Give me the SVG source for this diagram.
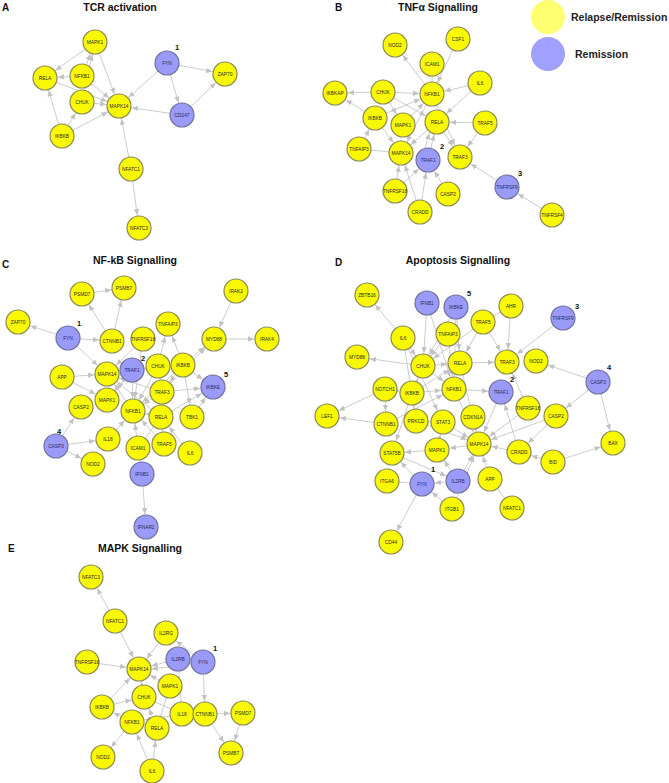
<svg xmlns="http://www.w3.org/2000/svg" width="669" height="783" viewBox="0 0 669 783">
<style>
.bg{fill:#ffffff}
.e line{stroke:#c6c6c6;stroke-width:0.9;fill:none}
.e line.a{marker-end:url(#ar)}
.n circle{stroke-width:1.2}
.y circle{fill:#f8f800;stroke:#8c8a5a}
.b circle{fill:#9a9af8;stroke:#72729e}
.n text{font-family:"Liberation Sans",Arial,sans-serif;font-size:4.8px;fill:#2c2c2c;text-anchor:middle}
.b text{fill:#2a2a5a}
.num{font-family:"Liberation Sans",Arial,sans-serif;font-size:7.5px;font-weight:bold;fill:#111}
.ttl{font-family:"Liberation Sans",Arial,sans-serif;font-size:10.5px;font-weight:bold;fill:#111;text-anchor:middle}
.lt{font-family:"Liberation Sans",Arial,sans-serif;font-size:10px;font-weight:bold;fill:#111}
.leg{font-family:"Liberation Sans",Arial,sans-serif;font-size:10.5px;font-weight:bold;fill:#222}
</style>
<defs>
<marker id="ar" viewBox="0 0 25 8" refX="19" refY="4" markerWidth="25" markerHeight="8" markerUnits="userSpaceOnUse" orient="auto"><path d="M0,1.3 L6,4 L0,6.7 z" fill="#c2c2c2"/></marker>
</defs>
<rect class="bg" x="0" y="0" width="669" height="783"/>

<g id="titles">
<text class="lt" x="2" y="11">A</text>
<text class="ttl" x="120" y="11">TCR activation</text>
<text class="lt" x="335" y="11">B</text>
<text class="ttl" x="438" y="11">TNFα Signalling</text>
<text class="lt" x="2" y="268">C</text>
<text class="ttl" x="135" y="264">NF-kB Signalling</text>
<text class="lt" x="335" y="266">D</text>
<text class="ttl" x="458" y="264">Apoptosis Signalling</text>
<text class="lt" x="8" y="552">E</text>
<text class="ttl" x="140" y="552">MAPK Signalling</text>
</g>

<g id="legend">
<circle cx="548" cy="17" r="17" fill="#ffff70"/>
<text class="leg" x="571" y="21">Relapse/Remission</text>
<circle cx="548" cy="54" r="17" fill="#a0a0ff"/>
<text class="leg" x="575" y="58">Remission</text>
</g>

<g id="connectors" class="e">
<!-- Panel A -->
<line class="a" x1="95" y1="42" x2="45" y2="78"/>
<line class="a" x1="82" y1="76" x2="95" y2="42"/>
<line class="a" x1="82" y1="102" x2="95" y2="42"/>
<line class="a" x1="82" y1="76" x2="45" y2="78"/>
<line class="a" x1="95" y1="42" x2="119" y2="106"/>
<line class="a" x1="45" y1="78" x2="119" y2="106"/>
<line class="a" x1="82" y1="76" x2="119" y2="106"/>
<line class="a" x1="82" y1="102" x2="119" y2="106"/>
<line class="a" x1="62" y1="136" x2="45" y2="78"/>
<line class="a" x1="62" y1="136" x2="82" y2="102"/>
<line class="a" x1="62" y1="136" x2="119" y2="106"/>
<line class="a" x1="167" y1="63" x2="119" y2="106"/>
<line class="a" x1="167" y1="63" x2="225" y2="74"/>
<line class="a" x1="167" y1="63" x2="182" y2="115"/>
<line class="a" x1="182" y1="115" x2="225" y2="74"/>
<line class="a" x1="182" y1="115" x2="119" y2="106"/>
<line class="a" x1="131" y1="169" x2="119" y2="106"/>
<line class="a" x1="131" y1="169" x2="139" y2="228"/>
<!-- Panel B -->
<line class="a" x1="432" y1="94" x2="395" y2="45"/>
<line class="a" x1="458" y1="39" x2="432" y2="94"/>
<line x1="432" y1="64" x2="432" y2="94"/>
<line class="a" x1="480" y1="83" x2="432" y2="94"/>
<line class="a" x1="480" y1="83" x2="437" y2="122"/>
<line class="a" x1="383" y1="92" x2="335" y2="93"/>
<line class="a" x1="375" y1="118" x2="335" y2="93"/>
<line class="a" x1="383" y1="92" x2="432" y2="94"/>
<line class="a" x1="383" y1="92" x2="437" y2="122"/>
<line class="a" x1="383" y1="92" x2="403" y2="125"/>
<line class="a" x1="375" y1="118" x2="432" y2="94"/>
<line class="a" x1="375" y1="118" x2="401" y2="153"/>
<line class="a" x1="403" y1="125" x2="432" y2="94"/>
<line class="a" x1="432" y1="94" x2="401" y2="153"/>
<line class="a" x1="437" y1="122" x2="401" y2="153"/>
<line class="a" x1="437" y1="122" x2="460" y2="157"/>
<line class="a" x1="432" y1="94" x2="460" y2="157"/>
<line class="a" x1="485" y1="123" x2="437" y2="122"/>
<line class="a" x1="485" y1="123" x2="460" y2="157"/>
<line class="a" x1="428" y1="160" x2="437" y2="122"/>
<line class="a" x1="422" y1="158" x2="433" y2="121"/>
<line class="a" x1="359" y1="149" x2="375" y2="118"/>
<line x1="359" y1="149" x2="401" y2="153"/>
<line class="a" x1="395" y1="191" x2="401" y2="153"/>
<line class="a" x1="395" y1="191" x2="428" y2="160"/>
<line class="a" x1="420" y1="212" x2="401" y2="153"/>
<line class="a" x1="420" y1="212" x2="428" y2="160"/>
<line class="a" x1="448" y1="194" x2="428" y2="160"/>
<line class="a" x1="507" y1="187" x2="460" y2="157"/>
<line class="a" x1="552" y1="215" x2="507" y2="187"/>
<!-- Panel C -->
<line class="a" x1="82" y1="294" x2="124" y2="288"/>
<line class="a" x1="112" y1="341" x2="82" y2="294"/>
<line class="a" x1="112" y1="341" x2="124" y2="288"/>
<line class="a" x1="68" y1="338" x2="18" y2="322"/>
<line class="a" x1="68" y1="338" x2="112" y2="341"/>
<line class="a" x1="68" y1="338" x2="107" y2="374"/>
<line class="a" x1="62" y1="377" x2="107" y2="374"/>
<line class="a" x1="62" y1="377" x2="107" y2="400"/>
<line class="a" x1="56" y1="446" x2="81" y2="407"/>
<line class="a" x1="56" y1="446" x2="108" y2="439"/>
<line class="a" x1="56" y1="446" x2="93" y2="464"/>
<line class="a" x1="108" y1="439" x2="133" y2="411"/>
<line class="a" x1="142" y1="474" x2="146" y2="527"/>
<line class="a" x1="236" y1="291" x2="214" y2="339"/>
<line class="a" x1="214" y1="339" x2="267" y2="339"/>
<line class="a" x1="183" y1="365" x2="214" y2="339"/>
<line class="a" x1="162" y1="392" x2="214" y2="339"/>
<line class="a" x1="158" y1="366" x2="168" y2="324"/>
<line class="a" x1="183" y1="365" x2="168" y2="324"/>
<line class="a" x1="183" y1="365" x2="213" y2="387"/>
<line class="a" x1="162" y1="392" x2="213" y2="387"/>
<line class="a" x1="192" y1="417" x2="213" y2="387"/>
<line class="a" x1="161" y1="417" x2="213" y2="387"/>
<line class="a" x1="183" y1="365" x2="192" y2="417"/>
<line class="a" x1="190" y1="453" x2="161" y2="417"/>
<line class="a" x1="164" y1="444" x2="161" y2="417"/>
<line class="a" x1="143" y1="339" x2="133" y2="411"/>
<line class="a" x1="143" y1="339" x2="107" y2="374"/>
<line class="a" x1="158" y1="366" x2="133" y2="411"/>
<line class="a" x1="158" y1="366" x2="107" y2="374"/>
<line class="a" x1="183" y1="365" x2="133" y2="411"/>
<line class="a" x1="183" y1="365" x2="132" y2="370"/>
<line class="a" x1="162" y1="392" x2="133" y2="411"/>
<line class="a" x1="162" y1="392" x2="107" y2="374"/>
<line class="a" x1="161" y1="417" x2="133" y2="411"/>
<line class="a" x1="161" y1="417" x2="107" y2="374"/>
<line class="a" x1="133" y1="411" x2="107" y2="374"/>
<line class="a" x1="132" y1="370" x2="133" y2="411"/>
<line class="a" x1="132" y1="370" x2="107" y2="400"/>
<line x1="138" y1="448" x2="161" y2="417"/>
<line class="a" x1="142" y1="474" x2="133" y2="411"/>
<line class="a" x1="164" y1="444" x2="133" y2="411"/>
<line class="a" x1="183" y1="365" x2="162" y2="392"/>
<line class="a" x1="158" y1="366" x2="162" y2="392"/>
<!-- Panel D -->
<line class="a" x1="403" y1="338" x2="367" y2="295"/>
<line class="a" x1="423" y1="366" x2="357" y2="357"/>
<line class="a" x1="385" y1="389" x2="327" y2="416"/>
<line class="a" x1="386" y1="424" x2="327" y2="416"/>
<line class="a" x1="385" y1="389" x2="386" y2="424"/>
<line class="a" x1="427" y1="303" x2="423" y2="366"/>
<line class="a" x1="427" y1="303" x2="454" y2="389"/>
<line class="a" x1="456" y1="307" x2="460" y2="363"/>
<line class="a" x1="456" y1="307" x2="454" y2="389"/>
<line class="a" x1="456" y1="307" x2="423" y2="366"/>
<line class="a" x1="483" y1="322" x2="460" y2="363"/>
<line class="a" x1="483" y1="322" x2="507" y2="362"/>
<line class="a" x1="483" y1="322" x2="423" y2="366"/>
<line class="a" x1="511" y1="306" x2="507" y2="362"/>
<line x1="511" y1="306" x2="483" y2="322"/>
<line class="a" x1="563" y1="318" x2="507" y2="362"/>
<line class="a" x1="598" y1="382" x2="536" y2="361"/>
<line class="a" x1="598" y1="382" x2="556" y2="416"/>
<line class="a" x1="598" y1="382" x2="613" y2="443"/>
<line class="a" x1="553" y1="462" x2="613" y2="443"/>
<line class="a" x1="553" y1="462" x2="519" y2="452"/>
<line class="a" x1="556" y1="416" x2="519" y2="452"/>
<line class="a" x1="556" y1="416" x2="479" y2="444"/>
<line class="a" x1="528" y1="408" x2="507" y2="362"/>
<line class="a" x1="528" y1="408" x2="479" y2="444"/>
<line class="a" x1="519" y1="452" x2="501" y2="392"/>
<line class="a" x1="519" y1="452" x2="479" y2="444"/>
<line class="a" x1="501" y1="392" x2="479" y2="444"/>
<line class="a" x1="454" y1="389" x2="501" y2="392"/>
<line class="a" x1="460" y1="363" x2="507" y2="362"/>
<line class="a" x1="448" y1="334" x2="423" y2="366"/>
<line class="a" x1="448" y1="334" x2="454" y2="389"/>
<line class="a" x1="403" y1="338" x2="423" y2="366"/>
<line class="a" x1="403" y1="338" x2="443" y2="422"/>
<line class="a" x1="403" y1="338" x2="416" y2="421"/>
<line class="a" x1="423" y1="366" x2="454" y2="389"/>
<line class="a" x1="423" y1="366" x2="460" y2="363"/>
<line class="a" x1="412" y1="393" x2="454" y2="389"/>
<line class="a" x1="412" y1="393" x2="423" y2="366"/>
<line class="a" x1="412" y1="393" x2="460" y2="363"/>
<line class="a" x1="454" y1="389" x2="479" y2="444"/>
<line class="a" x1="443" y1="422" x2="479" y2="444"/>
<line class="a" x1="473" y1="417" x2="479" y2="444"/>
<line class="a" x1="416" y1="421" x2="479" y2="444"/>
<line class="a" x1="416" y1="421" x2="443" y2="422"/>
<line class="a" x1="479" y1="444" x2="437" y2="450"/>
<line class="a" x1="437" y1="450" x2="392" y2="453"/>
<line class="a" x1="437" y1="450" x2="443" y2="422"/>
<line class="a" x1="422" y1="484" x2="391" y2="542"/>
<line class="a" x1="452" y1="509" x2="422" y2="484"/>
<line x1="387" y1="481" x2="422" y2="484"/>
<line class="a" x1="458" y1="481" x2="422" y2="484"/>
<line class="a" x1="422" y1="484" x2="392" y2="453"/>
<line class="a" x1="458" y1="481" x2="479" y2="444"/>
<line class="a" x1="458" y1="481" x2="437" y2="450"/>
<line class="a" x1="490" y1="479" x2="479" y2="444"/>
<line x1="512" y1="508" x2="490" y2="479"/>
<line class="a" x1="452" y1="509" x2="479" y2="444"/>
<line class="a" x1="385" y1="389" x2="412" y2="393"/>
<line class="a" x1="386" y1="424" x2="454" y2="389"/>
<line class="a" x1="412" y1="393" x2="392" y2="453"/>
<line class="a" x1="460" y1="363" x2="479" y2="444"/>
<line class="a" x1="392" y1="453" x2="458" y2="481"/>
<!-- Panel E -->
<line class="a" x1="115" y1="621" x2="91" y2="577"/>
<line class="a" x1="115" y1="621" x2="139" y2="669"/>
<line class="a" x1="87" y1="662" x2="139" y2="669"/>
<line class="a" x1="166" y1="633" x2="139" y2="669"/>
<line class="a" x1="178" y1="659" x2="139" y2="669"/>
<line class="a" x1="203" y1="662" x2="139" y2="671"/>
<line class="a" x1="203" y1="662" x2="166" y2="633"/>
<line class="a" x1="203" y1="662" x2="205" y2="714"/>
<line class="a" x1="205" y1="714" x2="243" y2="713"/>
<line class="a" x1="205" y1="714" x2="231" y2="753"/>
<line class="a" x1="243" y1="713" x2="231" y2="753"/>
<line class="a" x1="170" y1="686" x2="139" y2="669"/>
<line class="a" x1="102" y1="707" x2="139" y2="669"/>
<line class="a" x1="102" y1="707" x2="144" y2="697"/>
<line class="a" x1="132" y1="722" x2="102" y2="707"/>
<line class="a" x1="132" y1="722" x2="103" y2="757"/>
<line class="a" x1="152" y1="771" x2="132" y2="722"/>
<line class="a" x1="152" y1="771" x2="157" y2="728"/>
<line class="a" x1="144" y1="697" x2="139" y2="669"/>
<line x1="144" y1="697" x2="182" y2="714"/>
<line class="a" x1="157" y1="728" x2="144" y2="697"/>
<line x1="182" y1="714" x2="178" y2="659"/>
<line class="a" x1="182" y1="714" x2="132" y2="722"/>
<line x1="170" y1="686" x2="157" y2="728"/>
</g>

<g id="nodesA">
<g id="A_MAPK1" class="n y"><circle cx="95" cy="42" r="12"/><text x="95" y="43.7">MAPK1</text></g>
<g id="A_RELA" class="n y"><circle cx="45" cy="78" r="12"/><text x="45" y="79.7">RELA</text></g>
<g id="A_NFKB1" class="n y"><circle cx="82" cy="76" r="12"/><text x="82" y="77.7">NFKB1</text></g>
<g id="A_CHUK" class="n y"><circle cx="82" cy="102" r="12"/><text x="82" y="103.7">CHUK</text></g>
<g id="A_MAPK14" class="n y"><circle cx="119" cy="106" r="12"/><text x="119" y="107.7">MAPK14</text></g>
<g id="A_IKBKB" class="n y"><circle cx="62" cy="136" r="12"/><text x="62" y="137.7">IKBKB</text></g>
<g id="A_FYN" class="n b"><circle cx="167" cy="63" r="12"/><text x="167" y="64.7">FYN</text></g>
<g id="A_ZAP70" class="n y"><circle cx="225" cy="74" r="12"/><text x="225" y="75.7">ZAP70</text></g>
<g id="A_CD247" class="n b"><circle cx="182" cy="115" r="12"/><text x="182" y="116.7">CD247</text></g>
<g id="A_NFATC1" class="n y"><circle cx="131" cy="169" r="12"/><text x="131" y="170.7">NFATC1</text></g>
<g id="A_NFATC3" class="n y"><circle cx="139" cy="228" r="12"/><text x="139" y="229.7">NFATC3</text></g>
<text class="num" x="175" y="50">1</text>
</g>

<g id="nodesB">
<g id="B_NOD2" class="n y"><circle cx="395" cy="45" r="12"/><text x="395" y="46.7">NOD2</text></g>
<g id="B_CSF1" class="n y"><circle cx="458" cy="39" r="12"/><text x="458" y="40.7">CSF1</text></g>
<g id="B_ICAM1" class="n y"><circle cx="432" cy="64" r="12"/><text x="432" y="65.7">ICAM1</text></g>
<g id="B_IL6" class="n y"><circle cx="480" cy="83" r="12"/><text x="480" y="84.7">IL6</text></g>
<g id="B_CHUK" class="n y"><circle cx="383" cy="92" r="12"/><text x="383" y="93.7">CHUK</text></g>
<g id="B_NFKB1" class="n y"><circle cx="432" cy="94" r="12"/><text x="432" y="95.7">NFKB1</text></g>
<g id="B_IKBKAP" class="n y"><circle cx="335" cy="93" r="12"/><text x="335" y="94.7">IKBKAP</text></g>
<g id="B_IKBKB" class="n y"><circle cx="375" cy="118" r="12"/><text x="375" y="119.7">IKBKB</text></g>
<g id="B_MAPK1" class="n y"><circle cx="403" cy="125" r="12"/><text x="403" y="126.7">MAPK1</text></g>
<g id="B_RELA" class="n y"><circle cx="437" cy="122" r="12"/><text x="437" y="123.7">RELA</text></g>
<g id="B_TRAF5" class="n y"><circle cx="485" cy="123" r="12"/><text x="485" y="124.7">TRAF5</text></g>
<g id="B_TNFAIP3" class="n y"><circle cx="359" cy="149" r="12"/><text x="359" y="150.7">TNFAIP3</text></g>
<g id="B_MAPK14" class="n y"><circle cx="401" cy="153" r="12"/><text x="401" y="154.7">MAPK14</text></g>
<g id="B_TRAF1" class="n b"><circle cx="428" cy="160" r="12"/><text x="428" y="161.7">TRAF1</text></g>
<g id="B_TRAF3" class="n y"><circle cx="460" cy="157" r="12"/><text x="460" y="158.7">TRAF3</text></g>
<g id="B_TNFRSF18" class="n y"><circle cx="395" cy="191" r="12"/><text x="395" y="192.7">TNFRSF18</text></g>
<g id="B_CASP2" class="n y"><circle cx="448" cy="194" r="12"/><text x="448" y="195.7">CASP2</text></g>
<g id="B_CRADD" class="n y"><circle cx="420" cy="212" r="12"/><text x="420" y="213.7">CRADD</text></g>
<g id="B_TNFRSF9" class="n b"><circle cx="507" cy="187" r="12"/><text x="507" y="188.7">TNFRSF9</text></g>
<g id="B_TNFRSF4" class="n y"><circle cx="552" cy="215" r="12"/><text x="552" y="216.7">TNFRSF4</text></g>
<text class="num" x="440" y="149">2</text>
<text class="num" x="518" y="176">3</text>
</g>

<g id="nodesC">
<g id="C_PSMD7" class="n y"><circle cx="82" cy="294" r="12"/><text x="82" y="295.7">PSMD7</text></g>
<g id="C_PSMB7" class="n y"><circle cx="124" cy="288" r="12"/><text x="124" y="289.7">PSMB7</text></g>
<g id="C_ZAP70" class="n y"><circle cx="18" cy="322" r="12"/><text x="18" y="323.7">ZAP70</text></g>
<g id="C_FYN" class="n b"><circle cx="68" cy="338" r="12"/><text x="68" y="339.7">FYN</text></g>
<g id="C_CTNNB1" class="n y"><circle cx="112" cy="341" r="12"/><text x="112" y="342.7">CTNNB1</text></g>
<g id="C_TNFRSF18" class="n y"><circle cx="143" cy="339" r="12"/><text x="143" y="340.7">TNFRSF18</text></g>
<g id="C_TNFAIP3" class="n y"><circle cx="168" cy="324" r="12"/><text x="168" y="325.7">TNFAIP3</text></g>
<g id="C_IRAK2" class="n y"><circle cx="236" cy="291" r="12"/><text x="236" y="292.7">IRAK2</text></g>
<g id="C_MYD88" class="n y"><circle cx="214" cy="339" r="12"/><text x="214" y="340.7">MYD88</text></g>
<g id="C_IRAK4" class="n y"><circle cx="267" cy="339" r="12"/><text x="267" y="340.7">IRAK4</text></g>
<g id="C_TRAF1" class="n b"><circle cx="132" cy="370" r="12"/><text x="132" y="371.7">TRAF1</text></g>
<g id="C_APP" class="n y"><circle cx="62" cy="377" r="12"/><text x="62" y="378.7">APP</text></g>
<g id="C_MAPK14" class="n y"><circle cx="107" cy="374" r="12"/><text x="107" y="375.7">MAPK14</text></g>
<g id="C_CHUK" class="n y"><circle cx="158" cy="366" r="12"/><text x="158" y="367.7">CHUK</text></g>
<g id="C_IKBKB" class="n y"><circle cx="183" cy="365" r="12"/><text x="183" y="366.7">IKBKB</text></g>
<g id="C_IKBKE" class="n b"><circle cx="213" cy="387" r="12"/><text x="213" y="388.7">IKBKE</text></g>
<g id="C_TRAF3" class="n y"><circle cx="162" cy="392" r="12"/><text x="162" y="393.7">TRAF3</text></g>
<g id="C_MAPK1" class="n y"><circle cx="107" cy="400" r="12"/><text x="107" y="401.7">MAPK1</text></g>
<g id="C_CASP2" class="n y"><circle cx="81" cy="407" r="12"/><text x="81" y="408.7">CASP2</text></g>
<g id="C_NFKB1" class="n y"><circle cx="133" cy="411" r="12"/><text x="133" y="412.7">NFKB1</text></g>
<g id="C_RELA" class="n y"><circle cx="161" cy="417" r="12"/><text x="161" y="418.7">RELA</text></g>
<g id="C_TBK1" class="n y"><circle cx="192" cy="417" r="12"/><text x="192" y="418.7">TBK1</text></g>
<g id="C_CASP3" class="n b"><circle cx="56" cy="446" r="12"/><text x="56" y="447.7">CASP3</text></g>
<g id="C_IL18" class="n y"><circle cx="108" cy="439" r="12"/><text x="108" y="440.7">IL18</text></g>
<g id="C_ICAM1" class="n y"><circle cx="138" cy="448" r="12"/><text x="138" y="449.7">ICAM1</text></g>
<g id="C_TRAF5" class="n y"><circle cx="164" cy="444" r="12"/><text x="164" y="445.7">TRAF5</text></g>
<g id="C_IL6" class="n y"><circle cx="190" cy="453" r="12"/><text x="190" y="454.7">IL6</text></g>
<g id="C_NOD2" class="n y"><circle cx="93" cy="464" r="12"/><text x="93" y="465.7">NOD2</text></g>
<g id="C_IFNB1" class="n b"><circle cx="142" cy="474" r="12"/><text x="142" y="475.7">IFNB1</text></g>
<g id="C_IFNAR2" class="n b"><circle cx="146" cy="527" r="12"/><text x="146" y="528.7">IFNAR2</text></g>
<text class="num" x="77" y="326">1</text>
<text class="num" x="141" y="361">2</text>
<text class="num" x="57" y="434">4</text>
<text class="num" x="224" y="377">5</text>
</g>

<g id="nodesD">
<g id="D_ZBTB16" class="n y"><circle cx="367" cy="295" r="12"/><text x="367" y="296.7">ZBTB16</text></g>
<g id="D_IFNB1" class="n b"><circle cx="427" cy="303" r="12"/><text x="427" y="304.7">IFNB1</text></g>
<g id="D_IKBKE" class="n b"><circle cx="456" cy="307" r="12"/><text x="456" y="308.7">IKBKE</text></g>
<g id="D_TRAF5" class="n y"><circle cx="483" cy="322" r="12"/><text x="483" y="323.7">TRAF5</text></g>
<g id="D_AHR" class="n y"><circle cx="511" cy="306" r="12"/><text x="511" y="307.7">AHR</text></g>
<g id="D_TNFRSF9" class="n b"><circle cx="563" cy="318" r="12"/><text x="563" y="319.7">TNFRSF9</text></g>
<g id="D_TNFAIP3" class="n y"><circle cx="448" cy="334" r="12"/><text x="448" y="335.7">TNFAIP3</text></g>
<g id="D_IL6" class="n y"><circle cx="403" cy="338" r="12"/><text x="403" y="339.7">IL6</text></g>
<g id="D_MYD88" class="n y"><circle cx="357" cy="357" r="12"/><text x="357" y="358.7">MYD88</text></g>
<g id="D_CHUK" class="n y"><circle cx="423" cy="366" r="12"/><text x="423" y="367.7">CHUK</text></g>
<g id="D_RELA" class="n y"><circle cx="460" cy="363" r="12"/><text x="460" y="364.7">RELA</text></g>
<g id="D_TRAF3" class="n y"><circle cx="507" cy="362" r="12"/><text x="507" y="363.7">TRAF3</text></g>
<g id="D_NOD2" class="n y"><circle cx="536" cy="361" r="12"/><text x="536" y="362.7">NOD2</text></g>
<g id="D_CASP3" class="n b"><circle cx="598" cy="382" r="12"/><text x="598" y="383.7">CASP3</text></g>
<g id="D_NOTCH1" class="n y"><circle cx="385" cy="389" r="12"/><text x="385" y="390.7">NOTCH1</text></g>
<g id="D_IKBKB" class="n y"><circle cx="412" cy="393" r="12"/><text x="412" y="394.7">IKBKB</text></g>
<g id="D_NFKB1" class="n y"><circle cx="454" cy="389" r="12"/><text x="454" y="390.7">NFKB1</text></g>
<g id="D_TRAF1" class="n b"><circle cx="501" cy="392" r="12"/><text x="501" y="393.7">TRAF1</text></g>
<g id="D_TNFRSF18" class="n y"><circle cx="528" cy="408" r="12"/><text x="528" y="409.7">TNFRSF18</text></g>
<g id="D_CASP2" class="n y"><circle cx="556" cy="416" r="12"/><text x="556" y="417.7">CASP2</text></g>
<g id="D_LEF1" class="n y"><circle cx="327" cy="416" r="12"/><text x="327" y="417.7">LEF1</text></g>
<g id="D_CTNNB1" class="n y"><circle cx="386" cy="424" r="12"/><text x="386" y="425.7">CTNNB1</text></g>
<g id="D_PRKCD" class="n y"><circle cx="416" cy="421" r="12"/><text x="416" y="422.7">PRKCD</text></g>
<g id="D_STAT3" class="n y"><circle cx="443" cy="422" r="12"/><text x="443" y="423.7">STAT3</text></g>
<g id="D_CDKN1A" class="n y"><circle cx="473" cy="417" r="12"/><text x="473" y="418.7">CDKN1A</text></g>
<g id="D_MAPK14" class="n y"><circle cx="479" cy="444" r="12"/><text x="479" y="445.7">MAPK14</text></g>
<g id="D_BAX" class="n y"><circle cx="613" cy="443" r="12"/><text x="613" y="444.7">BAX</text></g>
<g id="D_CRADD" class="n y"><circle cx="519" cy="452" r="12"/><text x="519" y="453.7">CRADD</text></g>
<g id="D_STAT5B" class="n y"><circle cx="392" cy="453" r="12"/><text x="392" y="454.7">STAT5B</text></g>
<g id="D_MAPK1" class="n y"><circle cx="437" cy="450" r="12"/><text x="437" y="451.7">MAPK1</text></g>
<g id="D_BID" class="n y"><circle cx="553" cy="462" r="12"/><text x="553" y="463.7">BID</text></g>
<g id="D_ITGA6" class="n y"><circle cx="387" cy="481" r="12"/><text x="387" y="482.7">ITGA6</text></g>
<g id="D_FYN" class="n b"><circle cx="422" cy="484" r="12"/><text x="422" y="485.7">FYN</text></g>
<g id="D_IL2RB" class="n b"><circle cx="458" cy="481" r="12"/><text x="458" y="482.7">IL2RB</text></g>
<g id="D_APP" class="n y"><circle cx="490" cy="479" r="12"/><text x="490" y="480.7">APP</text></g>
<g id="D_ITGB1" class="n y"><circle cx="452" cy="509" r="12"/><text x="452" y="510.7">ITGB1</text></g>
<g id="D_NFATC1" class="n y"><circle cx="512" cy="508" r="12"/><text x="512" y="509.7">NFATC1</text></g>
<g id="D_CD44" class="n y"><circle cx="391" cy="542" r="12"/><text x="391" y="543.7">CD44</text></g>
<text class="num" x="467" y="296">5</text>
<text class="num" x="575" y="309">3</text>
<text class="num" x="607" y="370">4</text>
<text class="num" x="510" y="382">2</text>
<text class="num" x="431" y="472">1</text>
</g>

<g id="nodesE">
<g id="E_NFATC3" class="n y"><circle cx="91" cy="577" r="12"/><text x="91" y="578.7">NFATC3</text></g>
<g id="E_NFATC1" class="n y"><circle cx="115" cy="621" r="12"/><text x="115" y="622.7">NFATC1</text></g>
<g id="E_IL2RG" class="n y"><circle cx="166" cy="633" r="12"/><text x="166" y="634.7">IL2RG</text></g>
<g id="E_TNFRSF18" class="n y"><circle cx="87" cy="662" r="12"/><text x="87" y="663.7">TNFRSF18</text></g>
<g id="E_MAPK14" class="n y"><circle cx="139" cy="669" r="12"/><text x="139" y="670.7">MAPK14</text></g>
<g id="E_IL2RB" class="n b"><circle cx="178" cy="659" r="12"/><text x="178" y="660.7">IL2RB</text></g>
<g id="E_FYN" class="n b"><circle cx="203" cy="662" r="12"/><text x="203" y="663.7">FYN</text></g>
<g id="E_MAPK1" class="n y"><circle cx="170" cy="686" r="12"/><text x="170" y="687.7">MAPK1</text></g>
<g id="E_CHUK" class="n y"><circle cx="144" cy="697" r="12"/><text x="144" y="698.7">CHUK</text></g>
<g id="E_IKBKB" class="n y"><circle cx="102" cy="707" r="12"/><text x="102" y="708.7">IKBKB</text></g>
<g id="E_NFKB1" class="n y"><circle cx="132" cy="722" r="12"/><text x="132" y="723.7">NFKB1</text></g>
<g id="E_IL18" class="n y"><circle cx="182" cy="714" r="12"/><text x="182" y="715.7">IL18</text></g>
<g id="E_CTNNB1" class="n y"><circle cx="205" cy="714" r="12"/><text x="205" y="715.7">CTNNB1</text></g>
<g id="E_PSMD7" class="n y"><circle cx="243" cy="713" r="12"/><text x="243" y="714.7">PSMD7</text></g>
<g id="E_RELA" class="n y"><circle cx="157" cy="728" r="12"/><text x="157" y="729.7">RELA</text></g>
<g id="E_PSMB7" class="n y"><circle cx="231" cy="753" r="12"/><text x="231" y="754.7">PSMB7</text></g>
<g id="E_NOD2" class="n y"><circle cx="103" cy="757" r="12"/><text x="103" y="758.7">NOD2</text></g>
<g id="E_IL6" class="n y"><circle cx="152" cy="771" r="12"/><text x="152" y="772.7">IL6</text></g>
<text class="num" x="213" y="651">1</text>
</g>
</svg>
